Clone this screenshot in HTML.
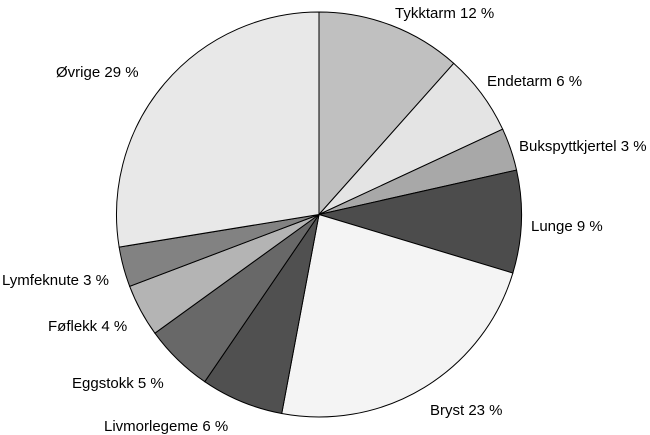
<!DOCTYPE html>
<html><head><meta charset="utf-8"><style>
html,body{margin:0;padding:0;background:#fff;}
svg{display:block;font-family:"Liberation Sans",Arial,sans-serif;font-size:15px;}
</style></head><body>
<svg id="chart" width="650" height="435" viewBox="0 0 650 435"></svg>
<script>
const categories = ["Tykktarm","Endetarm","Bukspyttkjertel","Lunge","Bryst","Livmorlegeme","Eggstokk","Føflekk","Lymfeknute","Øvrige"];
const values = [11.6,6.5,3.4,8.2,23.3,6.6,5.5,4.2,3.2,27.6];
const labels = ["Tykktarm 12 %","Endetarm 6 %","Bukspyttkjertel 3 %","Lunge 9 %","Bryst 23 %","Livmorlegeme 6 %","Eggstokk 5 %","Føflekk 4 %","Lymfeknute 3 %","Øvrige 29 %"];
const fills = ["#c0c0c0","#e4e4e4","#a8a8a8","#4c4c4c","#f4f4f4","#505050","#686868","#b4b4b4","#828282","#e8e8e8"];
const labelPos = [[395,18],[487,86],[519,151],[531,231],[430,415],[104,431],[72,388],[48,331],[2,285],[56,77]];
const NS="http://www.w3.org/2000/svg";
const svg=document.getElementById('chart');
const cx=319, cy=214.5, r=202.5;
const total=values.reduce((a,b)=>a+b,0);
function pt(a){return [cx+r*Math.sin(a), cy-r*Math.cos(a)];}
let acc=0;
values.forEach((v,i)=>{
  const a0=acc/total*2*Math.PI; acc+=v; const a1=acc/total*2*Math.PI;
  const p0=pt(a0), p1=pt(a1);
  const large=(a1-a0)>Math.PI?1:0;
  const path=document.createElementNS(NS,'path');
  path.setAttribute('d',`M${cx},${cy} L${p0[0]},${p0[1]} A${r},${r} 0 ${large} 1 ${p1[0]},${p1[1]} Z`);
  path.setAttribute('fill',fills[i]);
  path.setAttribute('stroke','#000');
  path.setAttribute('stroke-width','1');
  
  
  svg.appendChild(path);
});
labels.forEach((t,i)=>{
  const tx=document.createElementNS(NS,'text');
  tx.setAttribute('x',labelPos[i][0]);
  tx.setAttribute('y',labelPos[i][1]);
  tx.setAttribute('fill','#000');
  tx.textContent=t;
  
  
  svg.appendChild(tx);
});
</script>
</body></html>
